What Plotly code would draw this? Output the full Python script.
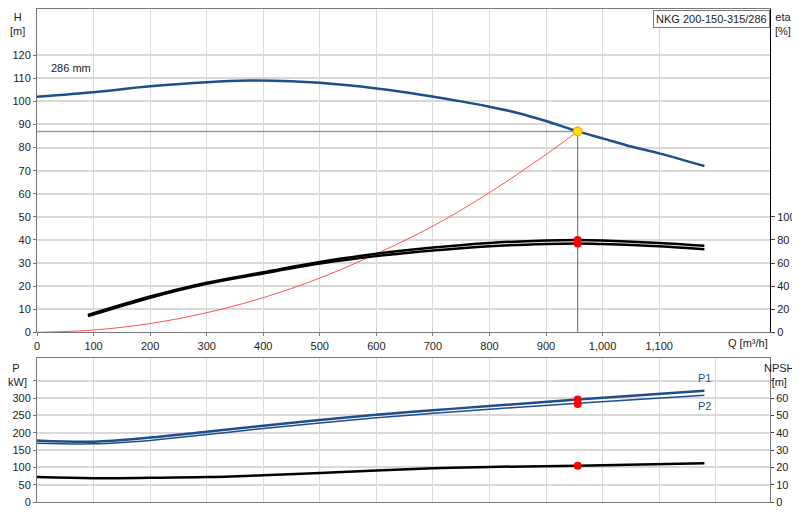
import plotly.graph_objects as go

q_h = [0, 100, 200, 300, 375, 450, 550, 650, 750, 800, 850, 900, 956, 1000, 1050, 1100, 1180]
h = [102, 104, 106.5, 108.3, 109, 108.7, 107, 104, 100, 97.7, 95, 91.5, 87, 84, 80.5, 77.5, 72]
q_eta = [90, 200, 300, 400, 500, 600, 700, 800, 900, 956, 1000, 1100, 1180]
eta1 = [15, 31, 43, 52, 61, 68, 73.4, 77.4, 79.6, 80, 79.6, 77.4, 75]
eta2 = [14, 30, 42, 51, 59.5, 66, 70.8, 74.5, 76.5, 77, 76.5, 74.5, 72]
q_sys = [0, 100, 200, 300, 400, 500, 600, 700, 800, 900, 956]
h_sys = [0, 1, 3.8, 8.5, 15, 23.5, 34, 46, 60.5, 77, 87]
q_p = [0, 100, 200, 300, 400, 500, 600, 700, 800, 956, 1180]
p1 = [178, 174, 186, 203, 220, 237, 252, 265, 277, 296, 321]
p2 = [170, 168, 178, 195, 212, 228, 243, 256, 268, 285, 308]
npsh = [14.4, 13.8, 14, 14.4, 15.5, 16.8, 18.2, 19.5, 20.3, 21, 22.4]
q_op, h_op = 956, 87
eta_op = [80, 77]
p_op = [296, 283]
npsh_op = 21

BLUE = "#1f4e8c"
fig = go.Figure()
fig.add_trace(go.Scatter(x=[0, q_op], y=[h_op, h_op], mode="lines", line=dict(color="#999", width=1.5), xaxis="x", yaxis="y"))
fig.add_trace(go.Scatter(x=[q_op, q_op], y=[h_op, 0], mode="lines", line=dict(color="#666", width=1), xaxis="x", yaxis="y"))
fig.add_trace(go.Scatter(x=q_sys, y=h_sys, mode="lines", line=dict(color="#ff5050", width=1, shape="spline"), xaxis="x", yaxis="y"))
fig.add_trace(go.Scatter(x=q_h, y=h, mode="lines", line=dict(color=BLUE, width=2.5, shape="spline", smoothing=0.8), xaxis="x", yaxis="y"))
fig.add_trace(go.Scatter(x=q_eta, y=eta1, mode="lines", line=dict(color="black", width=2.5, shape="spline"), xaxis="x", yaxis="y2"))
fig.add_trace(go.Scatter(x=q_eta, y=eta2, mode="lines", line=dict(color="black", width=2.5, shape="spline"), xaxis="x", yaxis="y2"))
fig.add_trace(go.Scatter(x=[q_op, q_op], y=eta_op, mode="markers", marker=dict(color="red", size=8), xaxis="x", yaxis="y2"))
fig.add_trace(go.Scatter(x=[q_op], y=[h_op], mode="markers", marker=dict(color="#ffe000", size=9, line=dict(color="#ff9000", width=1)), xaxis="x", yaxis="y"))
fig.add_trace(go.Scatter(x=q_p, y=p1, mode="lines", line=dict(color=BLUE, width=2.5, shape="spline"), xaxis="x2", yaxis="y3"))
fig.add_trace(go.Scatter(x=q_p, y=p2, mode="lines", line=dict(color=BLUE, width=1.5, shape="spline"), xaxis="x2", yaxis="y3"))
fig.add_trace(go.Scatter(x=q_p, y=npsh, mode="lines", line=dict(color="black", width=2.5, shape="spline"), xaxis="x2", yaxis="y4"))
fig.add_trace(go.Scatter(x=[q_op, q_op], y=p_op, mode="markers", marker=dict(color="red", size=8), xaxis="x2", yaxis="y3"))
fig.add_trace(go.Scatter(x=[q_op], y=[npsh_op], mode="markers", marker=dict(color="red", size=8), xaxis="x2", yaxis="y4"))

tf = dict(family="Liberation Sans, Arial", size=11, color="#222")
grid = "#d9d9d9"
xr = [0, 1296]
fig.update_layout(
    width=800, height=520, showlegend=False, plot_bgcolor="white", paper_bgcolor="white",
    margin=dict(l=29, r=38, t=1, b=0), font=tf,
    xaxis=dict(domain=[0, 1], range=xr, anchor="y", tickvals=list(range(0, 1101, 100)), automargin=False,
               tickformat=",d", gridcolor=grid, showline=True, linecolor="#777", mirror=True,
               zeroline=False, ticks="outside", ticklen=3, tickcolor="#777"),
    yaxis=dict(domain=[0.377, 1], range=[0, 140], tickvals=list(range(0, 121, 10)), gridcolor=grid, automargin=False,
               gridwidth=1.5, showline=True, linecolor="#777", zeroline=False, ticks="outside", ticklen=3, tickcolor="#777"),
    yaxis2=dict(overlaying="y", side="right", range=[0, 280], tickvals=list(range(0, 101, 20)), automargin=False,
                showgrid=False, showline=True, linecolor="black", ticks="outside", ticklen=4, zeroline=False),
    xaxis2=dict(domain=[0, 1], range=xr, anchor="y3", tickvals=list(range(100, 1201, 100)), showticklabels=False,
                automargin=False, gridcolor=grid, showline=True, linecolor="#777", mirror=True, zeroline=False),
    yaxis3=dict(domain=[0.05, 0.327], range=[0, 415], tickvals=list(range(0, 351, 50)), automargin=False,
                ticktext=[str(v) for v in range(0, 301, 50)] + [""], gridcolor=grid, gridwidth=1.5,
                showline=True, linecolor="#777", zeroline=False, ticks="outside", ticklen=3, tickcolor="#777"),
    yaxis4=dict(overlaying="y3", side="right", range=[0, 83], tickvals=list(range(0, 71, 10)), automargin=False,
                ticktext=[str(v) for v in range(0, 61, 10)] + [""], showgrid=False, showline=True,
                linecolor="#777", ticks="outside", ticklen=3, zeroline=False),
)
ann = [
    dict(x=-0.026, y=1.0, text="H<br>[m]", showarrow=False, xanchor="center", yanchor="top", align="center"),
    dict(x=1.018, y=1.0, text="eta<br>[%]", showarrow=False, xanchor="center", yanchor="top", align="center"),
    dict(x=0.94, y=0.372, text="Q [m³/h]", showarrow=False, xanchor="left", yanchor="top"),
    dict(x=-0.028, y=0.323, text="P<br>[kW]", showarrow=False, xanchor="center", yanchor="top", align="center"),
    dict(x=1.013, y=0.323, text="NPSH<br>[m]", showarrow=False, xanchor="center", yanchor="top", align="center"),
    dict(x=1.0, y=0.999, text="NKG 200-150-315/286", showarrow=False, xanchor="right", yanchor="top",
         bordercolor="#777", borderwidth=1, bgcolor="white", borderpad=2),
]
for a in ann:
    a.update(xref="paper", yref="paper")
fig.update_layout(annotations=ann)
fig.add_annotation(x=60, y=111, xref="x", yref="y", text="286 mm", showarrow=False, xanchor="center", yanchor="bottom")
fig.add_annotation(x=1180, y=336, xref="x2", yref="y3", text="P1", showarrow=False, font=dict(color=BLUE), xanchor="center", yanchor="bottom")
fig.add_annotation(x=1180, y=300, xref="x2", yref="y3", text="P2", showarrow=False, font=dict(color=BLUE), xanchor="center", yanchor="top")
fig.write_html("out.html")
